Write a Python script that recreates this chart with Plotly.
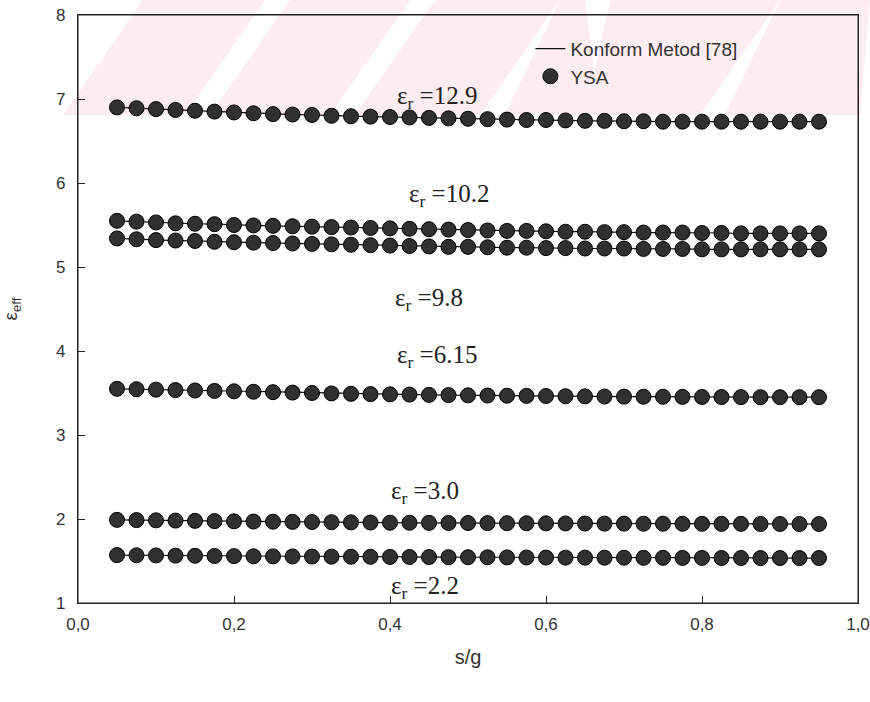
import plotly.graph_objects as go

s_g = [0.05, 0.075, 0.1, 0.125, 0.15, 0.175, 0.2, 0.225, 0.25, 0.275,
       0.3, 0.325, 0.35, 0.375, 0.4, 0.425, 0.45, 0.475, 0.5, 0.525,
       0.55, 0.575, 0.6, 0.625, 0.65, 0.675, 0.7, 0.725, 0.75, 0.775,
       0.8, 0.825, 0.85, 0.875, 0.9, 0.925, 0.95]

eps_12_9 = [6.90, 6.89, 6.88, 6.87, 6.86, 6.85, 6.84, 6.83, 6.82, 6.815,
            6.81, 6.80, 6.795, 6.79, 6.785, 6.78, 6.775, 6.77, 6.765, 6.76,
            6.755, 6.75, 6.75, 6.745, 6.74, 6.74, 6.735, 6.735, 6.73, 6.73,
            6.73, 6.73, 6.73, 6.73, 6.73, 6.73, 6.73]
eps_10_2 = [5.55, 5.54, 5.53, 5.52, 5.515, 5.51, 5.50, 5.495, 5.49, 5.485,
            5.48, 5.475, 5.47, 5.465, 5.46, 5.455, 5.45, 5.445, 5.44, 5.435,
            5.43, 5.43, 5.425, 5.42, 5.42, 5.415, 5.415, 5.41, 5.41, 5.41,
            5.405, 5.405, 5.40, 5.40, 5.40, 5.40, 5.40]
eps_9_8 = [5.34, 5.33, 5.32, 5.315, 5.31, 5.30, 5.295, 5.29, 5.285, 5.28,
           5.275, 5.27, 5.265, 5.26, 5.255, 5.25, 5.245, 5.24, 5.24, 5.235,
           5.23, 5.23, 5.225, 5.225, 5.22, 5.22, 5.22, 5.215, 5.215, 5.215,
           5.21, 5.21, 5.21, 5.21, 5.21, 5.21, 5.21]
eps_6_15 = [3.55, 3.545, 3.54, 3.535, 3.53, 3.525, 3.52, 3.515, 3.51, 3.505,
            3.50, 3.495, 3.49, 3.487, 3.484, 3.481, 3.478, 3.475, 3.472, 3.47,
            3.468, 3.466, 3.464, 3.462, 3.46, 3.458, 3.457, 3.456, 3.455, 3.454,
            3.453, 3.452, 3.451, 3.45, 3.45, 3.45, 3.45]
eps_3_0 = [1.99, 1.987, 1.984, 1.981, 1.978, 1.975, 1.972, 1.97, 1.968, 1.966,
           1.964, 1.962, 1.96, 1.958, 1.956, 1.955, 1.954, 1.953, 1.952, 1.951,
           1.95, 1.949, 1.948, 1.947, 1.946, 1.945, 1.945, 1.944, 1.944, 1.943,
           1.943, 1.942, 1.942, 1.941, 1.941, 1.94, 1.94]
eps_2_2 = [1.57, 1.568, 1.566, 1.564, 1.562, 1.56, 1.558, 1.556, 1.555, 1.554,
           1.553, 1.552, 1.551, 1.55, 1.549, 1.548, 1.547, 1.546, 1.545, 1.544,
           1.543, 1.542, 1.541, 1.54, 1.54, 1.539, 1.539, 1.538, 1.538, 1.537,
           1.537, 1.536, 1.536, 1.535, 1.535, 1.535, 1.535]

series = [eps_12_9, eps_10_2, eps_9_8, eps_6_15, eps_3_0, eps_2_2]

label_texts = ["12.9", "10.2", "9.8", "6.15", "3.0", "2.2"]
label_x = [0.46, 0.475, 0.45, 0.46, 0.445, 0.445]
label_y = [7.02, 5.85, 4.61, 3.93, 2.31, 1.18]

x_ticks = [0.0, 0.2, 0.4, 0.6, 0.8, 1.0]
x_ticktext = ["0,0", "0,2", "0,4", "0,6", "0,8", "1,0"]
y_ticks = [1, 2, 3, 4, 5, 6, 7, 8]

W, H = 870, 702
L, R, T, B = 78, 12, 15, 99


def px(xp, yp):
    # page pixel -> paper coordinates (decorative watermark only)
    return (xp - L) / (W - L - R), (H - B - yp) / (H - T - B)


def poly(points):
    pts = [px(a, b) for a, b in points]
    return "M " + " L ".join(f"{a:.4f},{b:.4f}" for a, b in pts) + " Z"


fig = go.Figure()

# faint pink scan watermark in the top band
pink = "#fdedf0"
wm_shapes = [
    [(63, 115), (185, 115), (265, 0), (143, 0)],
    [(210, 115), (330, 115), (410, 0), (290, 0)],
    [(355, 115), (480, 115), (560, 0), (435, 0)],
    [(505, 115), (600, 115), (585, 0), (560, 0)],
    [(585, 115), (700, 115), (780, 0), (610, 0)],
    [(725, 115), (860, 115), (870, 0), (780, 0)],
]
for pts in wm_shapes:
    fig.add_shape(type="path", path=poly(pts), xref="paper", yref="paper",
                  fillcolor=pink, line=dict(width=0), layer="below")

# plot frame
fig.add_shape(type="rect", x0=0, x1=1, y0=0, y1=1, xref="paper", yref="paper",
              line=dict(color="#222222", width=1), fillcolor="rgba(0,0,0,0)",
              layer="above")

for i, ys in enumerate(series):
    fig.add_trace(go.Scatter(
        x=s_g, y=ys, mode="lines",
        line=dict(color="#111111", width=1.2),
        name="Konform Metod [78]", legendgroup="konform",
        showlegend=(i == 0),
    ))
for i, ys in enumerate(series):
    fig.add_trace(go.Scatter(
        x=s_g, y=ys, mode="markers",
        marker=dict(size=15, color="#303030", line=dict(color="#000000", width=1)),
        name="YSA", legendgroup="ysa",
        showlegend=(i == 0),
    ))

for t, lx, ly in zip(label_texts, label_x, label_y):
    fig.add_annotation(
        x=lx, y=ly, xref="x", yref="y",
        text="ε<sub>r</sub> =" + t, showarrow=False,
        font=dict(family="Liberation Serif", size=25, color="#222222"),
    )

fig.update_layout(
    width=W, height=H,
    margin=dict(l=L, r=R, t=T, b=B, autoexpand=False),
    paper_bgcolor="white", plot_bgcolor="rgba(0,0,0,0)",
    font=dict(family="Liberation Sans", size=17, color="#333333"),
    showlegend=True,
    legend=dict(x=0.58, y=0.975, xanchor="left", yanchor="top",
                bgcolor="rgba(0,0,0,0)", tracegroupgap=0,
                font=dict(family="Liberation Sans", size=19, color="#333333")),
    xaxis=dict(range=[0, 1], tickvals=x_ticks, ticktext=x_ticktext,
               ticks="inside", ticklen=7, tickcolor="#222", showgrid=False,
               zeroline=False, showline=True, linecolor="#222", linewidth=1,
               mirror=True, ticklabeloverflow="allow", ticklabelstandoff=6,
               automargin=False,
               title=dict(text="s/g", font=dict(size=20, color="#333333"), standoff=16)),
    yaxis=dict(range=[1, 8], tickvals=y_ticks,
               ticks="inside", ticklen=7, tickcolor="#222", showgrid=False,
               zeroline=False, showline=True, linecolor="#222", linewidth=1.2,
               mirror=True, ticklabeloverflow="allow", ticklabelstandoff=8,
               automargin=False,
               title=dict(text="ε<sub>eff</sub>", font=dict(size=19, color="#333333"), standoff=34)),
)

fig.write_html("out.html",
               config={"displayModeBar": False},
               post_script="document.body.style.margin='0';"
                           "document.body.style.overflow='hidden';")
